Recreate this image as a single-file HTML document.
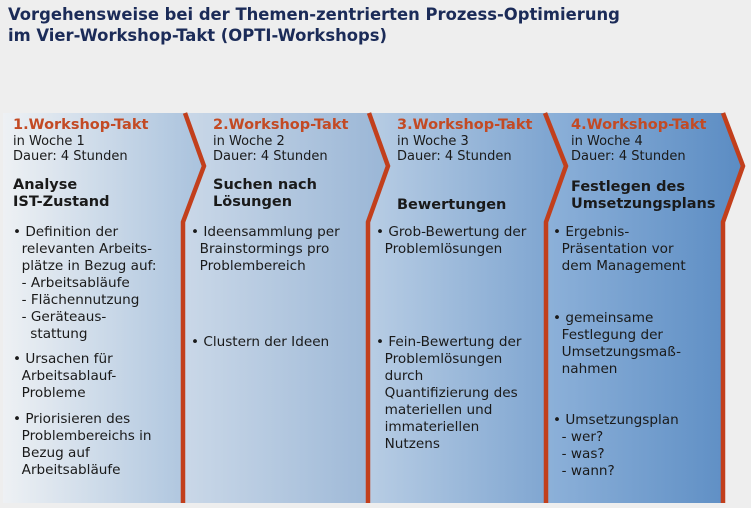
<!DOCTYPE html>
<html><head><meta charset="utf-8"><style>
html,body{margin:0;padding:0;}
body{width:751px;height:508px;background:#eeeeee;position:relative;overflow:hidden;font-family:"DejaVu Sans","Liberation Sans",sans-serif;}
.t{position:absolute;white-space:nowrap;font-size:13.6px;line-height:17px;color:#1a1a1a;}
.h{color:#c34a24;font-weight:bold;font-size:14.5px;}
.s{font-size:13px;line-height:15px;}
.b{font-weight:bold;font-size:14.5px;line-height:17px;}
.title{position:absolute;left:8px;top:4px;font-weight:bold;font-size:16.4px;line-height:21px;color:#1b2b58;white-space:nowrap;}
</style></head><body>
<svg width="751" height="508" style="position:absolute;left:0;top:0">
<defs>
<linearGradient id="g1" x1="0" x2="1"><stop offset="0" stop-color="#eef1f4"/><stop offset="1" stop-color="#a9c2dd"/></linearGradient>
<linearGradient id="g2" x1="0" x2="1"><stop offset="0" stop-color="#cad8e8"/><stop offset="1" stop-color="#9ab6d6"/></linearGradient>
<linearGradient id="g3" x1="0" x2="1"><stop offset="0" stop-color="#b8cde4"/><stop offset="1" stop-color="#7aa2cf"/></linearGradient>
<linearGradient id="g4" x1="0" x2="1"><stop offset="0" stop-color="#8db1d9"/><stop offset="1" stop-color="#5b8cc3"/></linearGradient>
</defs>
<rect x="0" y="0" width="751" height="508" fill="#eeeeee"/>
<polygon fill="url(#g1)" points="3,113 185,113 204,166 183,222 183,503 3,503"/>
<polygon fill="url(#g2)" points="185,113 369,113 388,166 368,222 368,503 183,503 183,222 204,166"/>
<polygon fill="url(#g3)" points="369,113 545,113 566,166 546,222 546,503 368,503 368,222 388,166"/>
<polygon fill="url(#g4)" points="545,113 723,113 743,166 723,222 723,503 546,503 546,222 566,166"/>
<g fill="none" stroke="#c23f1c" stroke-width="4.5" stroke-linejoin="miter">
<polyline points="185,113 204,166 183,222 183,503"/>
<polyline points="369,113 388,166 368,222 368,503"/>
<polyline points="545,113 566,166 546,222 546,503"/>
<polyline points="723,113 743,166 723,222 723,503"/>
</g>
</svg>
<div class="title">Vorgehensweise bei der Themen-zentrierten Prozess-Optimierung<br>im Vier-Workshop-Takt (OPTI-Workshops)</div>

<div class="t h" style="left:13px;top:117px">1.Workshop-Takt</div>
<div class="t s" style="left:13px;top:134px">in Woche 1<br>Dauer: 4 Stunden</div>
<div class="t b" style="left:13px;top:177px">Analyse<br>IST-Zustand</div>
<div class="t" style="left:13px;top:224px">• Definition der<br>&nbsp;&nbsp;relevanten Arbeits-<br>&nbsp;&nbsp;plätze in Bezug auf:<br>&nbsp;&nbsp;- Arbeitsabläufe<br>&nbsp;&nbsp;- Flächennutzung<br>&nbsp;&nbsp;- Geräteaus-<br>&nbsp;&nbsp;&nbsp;&nbsp;stattung</div>
<div class="t" style="left:13px;top:351px">• Ursachen für<br>&nbsp;&nbsp;Arbeitsablauf-<br>&nbsp;&nbsp;Probleme</div>
<div class="t" style="left:13px;top:411px">• Priorisieren des<br>&nbsp;&nbsp;Problembereichs in<br>&nbsp;&nbsp;Bezug auf<br>&nbsp;&nbsp;Arbeitsabläufe</div>

<div class="t h" style="left:213px;top:117px">2.Workshop-Takt</div>
<div class="t s" style="left:213px;top:134px">in Woche 2<br>Dauer: 4 Stunden</div>
<div class="t b" style="left:213px;top:177px">Suchen nach<br>Lösungen</div>
<div class="t" style="left:191px;top:224px">• Ideensammlung per<br>&nbsp;&nbsp;Brainstormings pro<br>&nbsp;&nbsp;Problembereich</div>
<div class="t" style="left:191px;top:334px">• Clustern der Ideen</div>

<div class="t h" style="left:397px;top:117px">3.Workshop-Takt</div>
<div class="t s" style="left:397px;top:134px">in Woche 3<br>Dauer: 4 Stunden</div>
<div class="t b" style="left:397px;top:197px">Bewertungen</div>
<div class="t" style="left:376px;top:224px">• Grob-Bewertung der<br>&nbsp;&nbsp;Problemlösungen</div>
<div class="t" style="left:376px;top:334px">• Fein-Bewertung der<br>&nbsp;&nbsp;Problemlösungen<br>&nbsp;&nbsp;durch<br>&nbsp;&nbsp;Quantifizierung des<br>&nbsp;&nbsp;materiellen und<br>&nbsp;&nbsp;immateriellen<br>&nbsp;&nbsp;Nutzens</div>

<div class="t h" style="left:571px;top:117px">4.Workshop-Takt</div>
<div class="t s" style="left:571px;top:134px">in Woche 4<br>Dauer: 4 Stunden</div>
<div class="t b" style="left:571px;top:179px">Festlegen des<br>Umsetzungsplans</div>
<div class="t" style="left:553px;top:224px">• Ergebnis-<br>&nbsp;&nbsp;Präsentation vor<br>&nbsp;&nbsp;dem Management</div>
<div class="t" style="left:553px;top:310px">• gemeinsame<br>&nbsp;&nbsp;Festlegung der<br>&nbsp;&nbsp;Umsetzungsmaß-<br>&nbsp;&nbsp;nahmen</div>
<div class="t" style="left:553px;top:412px">• Umsetzungsplan<br>&nbsp;&nbsp;- wer?<br>&nbsp;&nbsp;- was?<br>&nbsp;&nbsp;- wann?</div>
</body></html>
